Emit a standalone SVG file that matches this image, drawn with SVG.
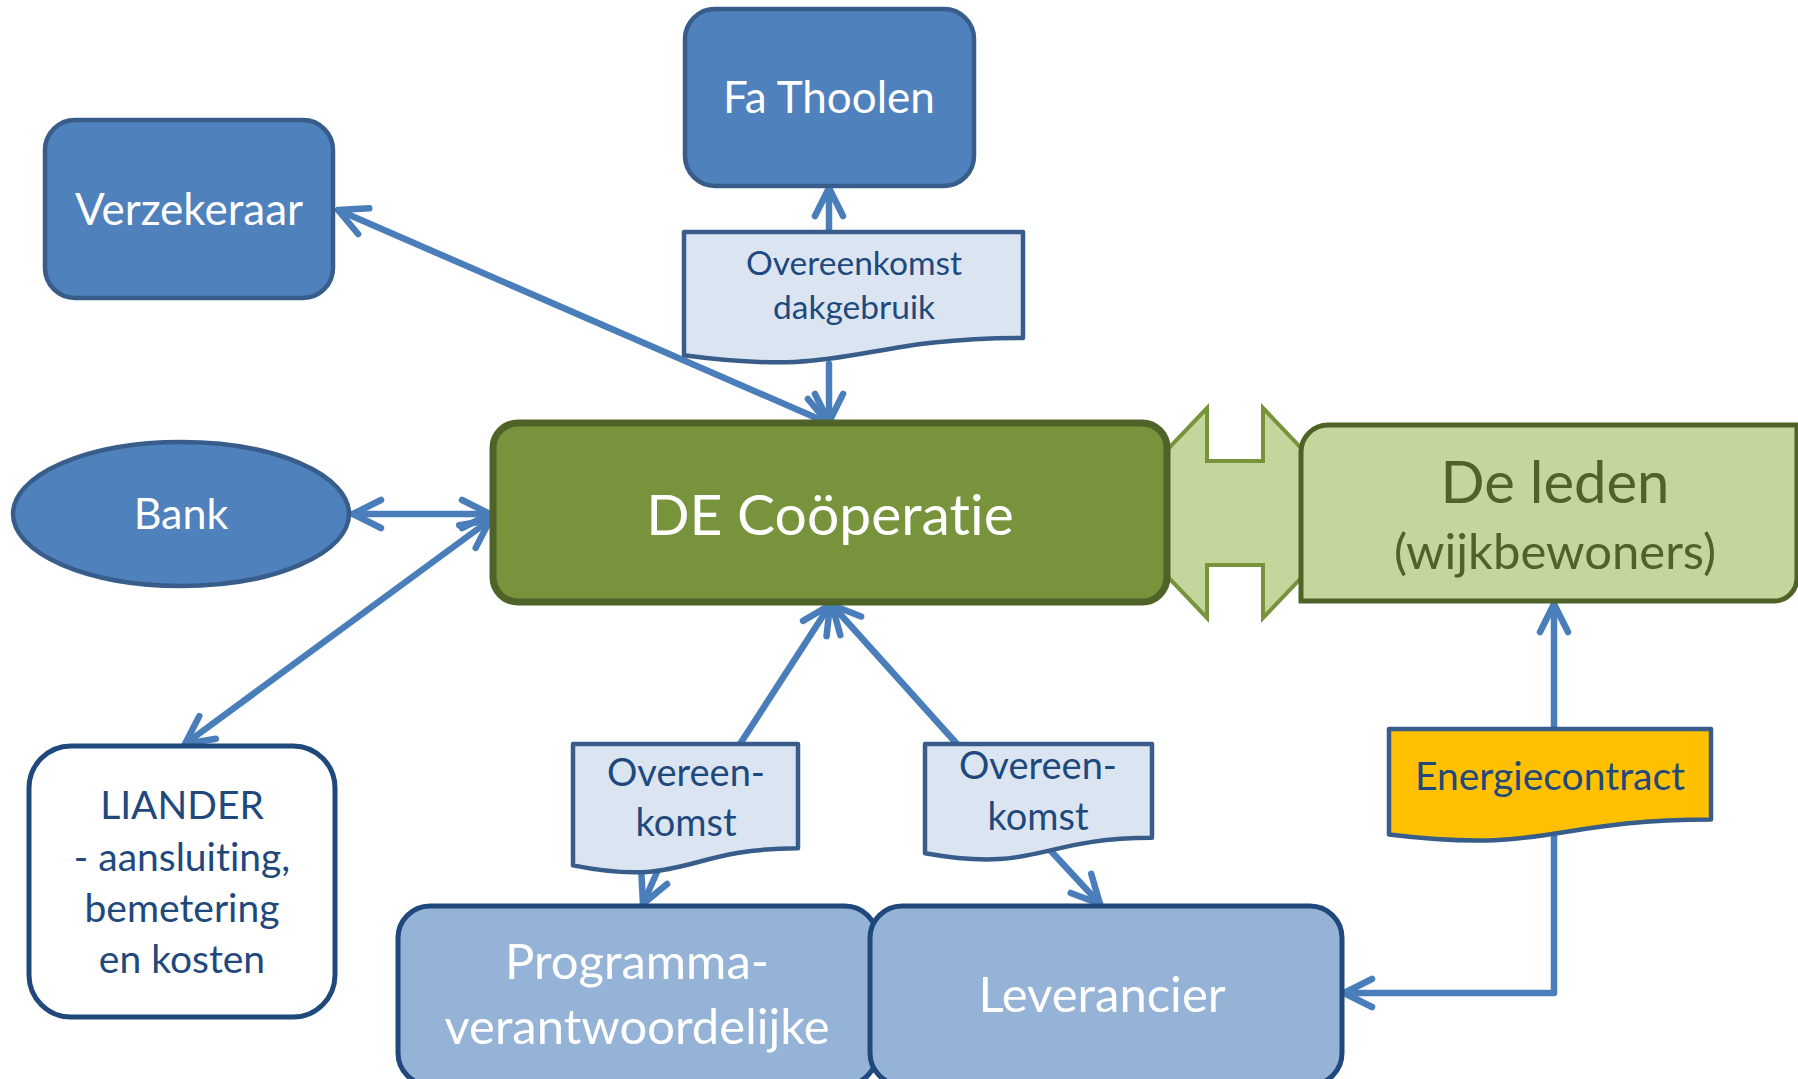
<svg xmlns="http://www.w3.org/2000/svg" width="1798" height="1079" viewBox="0 0 1798 1079">
<style>
.t{font-family:Lato,"Open Sans","Liberation Sans",sans-serif;text-anchor:middle;font-variant-ligatures:none;font-feature-settings:"liga" 0}
.w{fill:#FFFFFF}
.db{fill:#1F497D}
.dg{fill:#4F6228}
.blue{fill:#4F81BD;stroke:#385D8A;stroke-width:4.5}
.lblue{fill:#95B3D7;stroke:#1F497D;stroke-width:5}
.doc{fill:#DBE5F1;stroke:#385D8A;stroke-width:4.5;stroke-linejoin:round}
.con{fill:none;stroke:#4A7EBB;stroke-width:6.5;stroke-linecap:round;stroke-linejoin:round}
</style>
<defs>
<marker id="ah" markerUnits="userSpaceOnUse" markerWidth="44" markerHeight="44" viewBox="-38 -22 44 44" refX="0" refY="0" orient="auto-start-reverse">
<path d="M-28,-14 L0,0 L-28,14" fill="none" stroke="#4A7EBB" stroke-width="6.5" stroke-linecap="round" stroke-linejoin="round"/>
</marker>
</defs>
<rect width="1798" height="1079" fill="#FFFFFF"/>

<g id="dubbelpijl">
<polygon points="1107,513 1207,408 1207,461 1263,461 1263,408 1363,513 1263,618 1263,565 1207,565 1207,618" fill="#C3D69B" stroke="#77933C" stroke-width="4" stroke-linejoin="miter"/>
</g>

<g id="connectors">
<line class="con" x1="829" y1="232" x2="829" y2="188" marker-end="url(#ah)"/>
<line class="con" x1="829" y1="364" x2="829" y2="422" marker-end="url(#ah)"/>
<line class="con" x1="338" y1="210" x2="828" y2="423" marker-start="url(#ah)" marker-end="url(#ah)"/>
<line class="con" x1="353" y1="514" x2="490" y2="514" marker-start="url(#ah)" marker-end="url(#ah)"/>
<line class="con" x1="185" y1="744" x2="490" y2="520" marker-start="url(#ah)" marker-end="url(#ah)"/>
<line class="con" x1="740" y1="744" x2="830" y2="605" marker-end="url(#ah)"/>
<line class="con" x1="957" y1="744" x2="832" y2="605" marker-end="url(#ah)"/>
<line class="con" x1="657" y1="872" x2="643" y2="904" marker-end="url(#ah)"/>
<line class="con" x1="1050" y1="850" x2="1100" y2="904" marker-end="url(#ah)"/>
<line class="con" x1="1554" y1="729" x2="1554" y2="604" marker-end="url(#ah)"/>
<polyline class="con" points="1554,836 1554,993 1344,993" marker-end="url(#ah)"/>
</g>

<g id="fa-thoolen">
<rect class="blue" x="685" y="9" width="289" height="177" rx="30"/>
<text class="t w" x="829" y="113" font-size="44">Fa Thoolen</text>
</g>

<g id="verzekeraar">
<rect class="blue" x="45" y="120" width="288" height="178" rx="30"/>
<text class="t w" x="189" y="225" font-size="44">Verzekeraar</text>
</g>

<g id="overeenkomst-dakgebruik">
<path class="doc" d="M684,232 H1023 V337.9 C853.5,337.9 853.5,378.2 684,355.3 Z"/>
<text class="t db" x="854" y="275" font-size="33.5">Overeenkomst</text>
<text class="t db" x="854" y="319" font-size="33.5">dakgebruik</text>
</g>

<g id="bank">
<ellipse class="blue" cx="181" cy="514" rx="168" ry="72"/>
<text class="t w" x="181" y="529" font-size="43">Bank</text>
</g>

<g id="de-cooperatie">
<rect x="493" y="423" width="674" height="179" rx="25" fill="#77933C" stroke="#4F6228" stroke-width="7"/>
<text class="t w" x="830" y="535" font-size="57">DE Coöperatie</text>
</g>

<g id="de-leden">
<path d="M1328,425 H1797 V578 A23,23 0 0 1 1774,601 H1301 V452 A27,27 0 0 1 1328,425 Z" fill="#C3D69B" stroke="#4F6228" stroke-width="5"/>
<text class="t dg" x="1555" y="503" font-size="58">De leden</text>
<text class="t dg" x="1555" y="569" font-size="49">(wijkbewoners)</text>
</g>

<g id="liander">
<rect x="29" y="746" width="306" height="271" rx="42" fill="#FFFFFF" stroke="#1F497D" stroke-width="5"/>
<text class="t db" x="182" y="819" font-size="39">LIANDER</text>
<text class="t db" x="182" y="871" font-size="39">- aansluiting,</text>
<text class="t db" x="182" y="922" font-size="39">bemetering</text>
<text class="t db" x="182" y="973" font-size="39">en kosten</text>
</g>

<g id="overeenkomst-pv">
<path class="doc" d="M573,744 H798 V848.3 C685.5,848.3 685.5,888 573,865.4 Z"/>
<text class="t db" x="686" y="786" font-size="38">Overeen-</text>
<text class="t db" x="686" y="836" font-size="38">komst</text>
</g>

<g id="overeenkomst-leverancier">
<path class="doc" d="M925,744 H1152 V837.8 C1038.5,837.8 1038.5,873.6 925,853.3 Z"/>
<text class="t db" x="1038" y="779" font-size="38">Overeen-</text>
<text class="t db" x="1038" y="830" font-size="38">komst</text>
</g>

<g id="energiecontract">
<path d="M1389,729 H1711 V819.6 C1550,819.6 1550,854.1 1389,834.5 Z" fill="#FFC000" stroke="#385D8A" stroke-width="4.5" stroke-linejoin="round"/>
<text class="t db" x="1550" y="790" font-size="39">Energiecontract</text>
</g>

<g id="programmaverantwoordelijke">
<rect class="lblue" x="398" y="906" width="479" height="179" rx="32"/>
<text class="t w" x="637" y="979" font-size="49">Programma-</text>
<text class="t w" x="637" y="1044" font-size="49">verantwoordelijke</text>
</g>

<g id="leverancier">
<rect class="lblue" x="870" y="906" width="472" height="179" rx="32"/>
<text class="t w" x="1102" y="1012" font-size="49">Leverancier</text>
</g>
</svg>
